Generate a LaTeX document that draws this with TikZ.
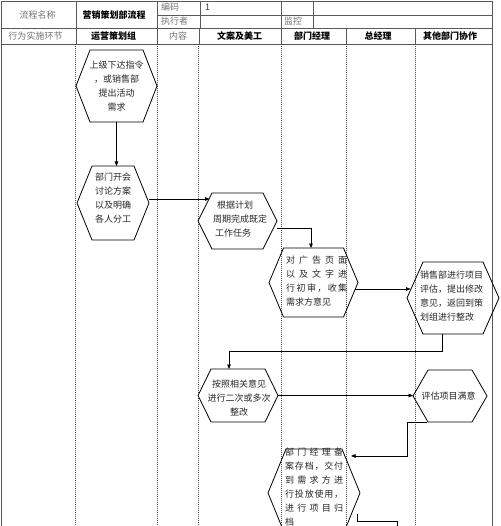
\documentclass[tikz,border=0pt]{standalone}
\usepackage{fontspec}
\setmainfont{Noto Sans CJK SC}
\usetikzlibrary{arrows.meta,calc}
\newcommand{\hexdraw}[2]{\draw[hexline] (#1.west) -- ([xshift=#2]#1.north west) -- ([xshift=-#2]#1.north east) -- (#1.east) -- ([xshift=-#2]#1.south east) -- ([xshift=#2]#1.south west) -- cycle;}
\newcommand{\jl}[2]{\makebox[#1][s]{#2}}
\begin{document}
\begin{tikzpicture}[x=1pt,y=-1pt,
  grid/.style={draw=black!65,line width=0.7pt},
  lane/.style={draw=black!70,line width=0.6pt,dash pattern=on 1pt off 1pt},
  hexbox/.style={inner sep=0pt,outer sep=0pt,draw=none,shape=rectangle},
  hexline/.style={draw=black,line width=0.8pt},
  hx/.style={inner sep=0pt,font=\fontsize{9}{14}\selectfont,text=black!85,align=center},
  hd/.style={inner sep=0pt,font=\fontsize{9}{11}\selectfont,text=black!55},
  hb/.style={inner sep=0pt,font=\fontsize{9}{11}\selectfont\bfseries,text=black},
  arr/.style={draw=black,line width=0.8pt,-{Triangle[length=4.5pt,width=3.6pt]}},
  conn/.style={draw=black,line width=0.8pt}]
\useasboundingbox (0,0) rectangle (500,526);
\clip (0,0) rectangle (500,526);
% grid
\draw[grid] (1,1) -- (492,1);
\draw[grid] (157,15) -- (492,15);
\draw[grid] (1,28) -- (492,28);
\draw[grid] (1,44) -- (492,44);
\draw[grid] (1,1) -- (1,526);
\draw[grid] (492,1) -- (492,526);
\foreach \x in {76,157,200,281,313} \draw[grid] (\x,1) -- (\x,28);
\foreach \x in {76,157,199,281,346,415} \draw[grid] (\x,28) -- (\x,44);
\foreach \x in {75,157,198,281,346,415} \draw[lane] (\x,44) -- (\x,526);
% header text
\node[hd] (n1) at (37.5,15) {流程名称};
\node[hb] (n2) at (114,15) {营销策划部流程};
\node[hd,anchor=west] (n3) at (161,7.5) {编码};
\node[hd,anchor=west,text=black!80] (n4) at (205,7.5) {1};
\node[hd,anchor=west] (n5) at (161,21.5) {执行者};
\node[hd,anchor=west] (n6) at (284,21.5) {监控};
\node[hd] (n7) at (35.5,36.5) {行为实施环节};
\node[hb] (n8) at (113.5,36.5) {运营策划组};
\node[hd] (n9) at (178,36.5) {内容};
\node[hb] (n10) at (239.5,36.5) {文案及美工};
\node[hb] (n11) at (312,36.5) {部门经理};
\node[hb] (n12) at (378,36.5) {总经理};
\node[hb] (n13) at (450,36.5) {其他部门协作};
% hexagons
\node[hexbox,minimum width=81pt,minimum height=72pt] (h1) at (116.5,86) {};
\hexdraw{h1}{14pt}
\node[hx] (t1) at (116.5,86) {上级下达指令\\，或销售部\\提出活动\\需求};
\node[hexbox,minimum width=72pt,minimum height=74pt] (h2) at (113,203) {};
\hexdraw{h2}{15pt}
\node[hx] (t2) at (113,198) {部门开会\\讨论方案\\以及明确\\各人分工};
\node[hexbox,minimum width=79pt,minimum height=56pt] (h3) at (237.5,221) {};
\hexdraw{h3}{14pt}
\node[hx,align=left,anchor=west] (t3) at (213,219) {\hspace*{4pt}根据计划\\周期完成既定\\\hspace*{2pt}工作任务};
\node[hexbox,minimum width=89pt,minimum height=69pt] (h4) at (313.5,282.5) {};
\hexdraw{h4}{14.5pt}
\node[hx,align=left,anchor=west] (t4) at (286,281) {\jl{61pt}{对\hfill 广\hfill 告\hfill 页\hfill 面}\\\jl{61pt}{以\hfill 及\hfill 文\hfill 字\hfill 进}\\\jl{61pt}{行\hfill 初\hfill 审\hfill ，\hfill 收\hfill 集}\\需求方意见};
\node[hexbox,minimum width=92pt,minimum height=72pt] (h5) at (453,298) {};
\hexdraw{h5}{16pt}
\node[hx,align=left,anchor=west] (t5) at (420,296) {销售部进行项目\\评估，提出修改\\意见，返回到策\\划组进行整改};
\node[hexbox,minimum width=80pt,minimum height=53pt] (h6) at (238,395.5) {};
\hexdraw{h6}{13pt}
\node[hx] (t6) at (239,398) {按照相关意见\\进行二次或多次\\整改};
\node[hexbox,minimum width=74pt,minimum height=52pt] (h7) at (450,396) {};
\hexdraw{h7}{15pt}
\node[hx] (t7) at (448.5,396) {评估项目满意};
\node[hexbox,minimum width=92pt,minimum height=88pt] (h8) at (314,493) {};
\hexdraw{h8}{18pt}
\node[hx,align=left,anchor=west] (t8) at (285,487.5) {\jl{58pt}{部\hfill 门\hfill 经\hfill 理\hfill 备}\\\jl{58pt}{案\hfill 存\hfill 档\hfill ，\hfill 交\hfill 付}\\\jl{58pt}{到\hfill 需\hfill 求\hfill 方\hfill 进}\\\jl{58pt}{行\hfill 投\hfill 放\hfill 使\hfill 用\hfill ，}\\\jl{58pt}{进\hfill 行\hfill 项\hfill 目\hfill 归}\\档};
% connectors
\coordinate (a2) at (209.5,199);
\coordinate (a4) at (410.5,289);
\draw[arr] (h1.south) -- (h1.south |- h2.north);
\draw[arr] ([yshift=4pt]h2.east) -- (a2);
\draw[arr] ([yshift=-7pt]h3.east) -| ([xshift=-2.5pt]h4.north);
\draw[arr] ([xshift=-3pt,yshift=-6.5pt]h4.east) -- (a4);
\draw[arr] ([xshift=-11pt]h5.south) -- ++(0,17) -| ([xshift=-9pt]h6.north);
\draw[arr] (h6.east) -- (h6.east -| h7.west);
\draw[arr] ([xshift=14pt]h7.south west) -- ++(-20,0) |- ([xshift=-9pt,yshift=-7pt]h8.north east);
\draw[conn] ([xshift=-3pt,yshift=-21pt]h8.east) -- ++(0,7) -- ++(40,0) -- ++(0,12);
\end{tikzpicture}
\end{document}
